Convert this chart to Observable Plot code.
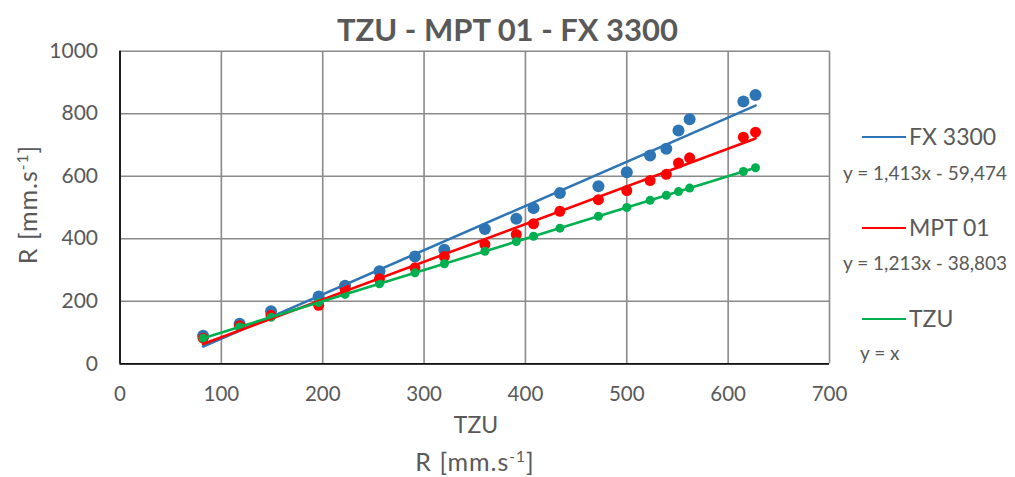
<!DOCTYPE html>
<html><head><meta charset="utf-8">
<script src="https://cdn.jsdelivr.net/npm/d3@7"></script>
<script src="https://cdn.jsdelivr.net/npm/@observablehq/plot@0.6"></script>
<style>
body{margin:0;background:#fff;font-family:Lato,"Open Sans",sans-serif;color:#595959}
#wrap{position:relative;width:1015px;height:477px;overflow:hidden;background:#fff}
.abs{position:absolute;white-space:nowrap;line-height:1}
sup{font-size:62%;vertical-align:0;position:relative;top:-0.6em}
</style></head><body><div id="wrap"></div>
<script>
// ---- data ----
const seriesNames = ["FX 3300", "MPT 01", "TZU"];
const seriesColors = ["#2E75B6", "#FF0000", "#00B050"];
const equations = ["y = 1,413x - 59,474", "y = 1,213x - 38,803", "y = x"];
const tzuX = [82, 118, 149, 196, 222, 256, 291, 320, 360, 391, 408, 434, 472, 500, 523, 539, 551, 562, 615, 627];
const fxValues = [90, 128, 168, 215, 250, 296, 343, 365, 431, 464, 498, 546, 568, 613, 666, 688, 746, 782, 839, 860];
const mptValues = [82, 122, 155, 187, 240, 272, 307, 343, 382, 414, 448, 488, 525, 554, 586, 606, 642, 659, 725, 741];
const tzuValues = [82, 118, 149, 196, 222, 256, 291, 320, 360, 391, 408, 434, 472, 500, 523, 539, 551, 562, 615, 627];
const xTicks = [0, 100, 200, 300, 400, 500, 600, 700];
const yTicks = [0, 200, 400, 600, 800, 1000];
const chartTitle = "TZU - MPT 01 - FX 3300";

const seriesValues = [fxValues, mptValues, tzuValues];
const dotRadius = [6, 5.5, 4.5];
const rows = [];
seriesNames.forEach((s, i) => seriesValues[i].forEach((v, j) => rows.push({series: s, x: tzuX[j], y: v})));

const marks = [
  Plot.gridX(xTicks, {stroke: "#8a8a8a", strokeOpacity: 1, strokeWidth: 1.6}),
  Plot.gridY(yTicks, {stroke: "#8a8a8a", strokeOpacity: 1, strokeWidth: 1.6}),
  Plot.ruleX([0], {stroke: "#111", strokeWidth: 1.8}),
  Plot.ruleY([0], {stroke: "#111", strokeWidth: 1.8}),
  Plot.axisX(xTicks, {tickSize: 0, tickPadding: 23, label: null, tickFormat: d => String(d), fontSize: 20.5, fill: "#595959"}),
  Plot.axisY(yTicks, {tickSize: 0, tickPadding: 22, label: null, tickFormat: d => String(d), fontSize: 21, fill: "#595959"})
];
seriesNames.forEach((s, i) => {
  marks.push(Plot.dot(rows.filter(d => d.series === s), {x: "x", y: "y", r: dotRadius[i], fill: seriesColors[i], stroke: "none"}));
});
seriesNames.forEach((s, i) => {
  marks.push(Plot.linearRegressionY(rows.filter(d => d.series === s), {x: "x", y: "y", stroke: seriesColors[i], strokeWidth: 2.6, ci: 0}));
});

const chart = Plot.plot({
  width: 850, height: 477,
  marginLeft: 119.5, marginRight: 21, marginTop: 50.7, marginBottom: 113.7,
  x: {domain: [0, 700]},
  y: {domain: [0, 1000]},
  style: {fontFamily: "Lato, sans-serif", color: "#595959", background: "transparent", overflow: "visible"},
  marks
});

const wrap = document.getElementById("wrap");
chart.style.position = "absolute"; chart.style.left = "0px"; chart.style.top = "0px";
wrap.appendChild(chart);

function addDiv(html, css) {
  const d = document.createElement("div");
  d.className = "abs";
  d.innerHTML = html;
  Object.assign(d.style, css);
  wrap.appendChild(d);
  return d;
}
// title
addDiv(chartTitle, {left: "0px", width: "1015px", textAlign: "center", top: "14px", fontSize: "31px", fontWeight: "700", color: "#595959"});
// axis titles
addDiv("TZU", {left: "376px", width: "200px", textAlign: "center", top: "413px", fontSize: "23px"});
addDiv("R [mm.s<sup>-1</sup>]", {left: "375px", width: "200px", textAlign: "center", top: "449px", fontSize: "25px", letterSpacing: "1px"});
addDiv("R [mm.s<sup>-1</sup>]", {left: "-73px", width: "200px", textAlign: "center", top: "192px", fontSize: "25px", letterSpacing: "1px", transform: "rotate(-90deg)", transformOrigin: "50% 50%"});
// legend
const legendY = [137, 228, 319];
const eqY = [172, 262, 352];
const eqX = [843, 843, 860];
seriesNames.forEach((s, i) => {
  addDiv("", {left: "862px", top: (legendY[i] - 1.3) + "px", width: "44px", height: "2.6px", background: seriesColors[i]});
  addDiv(s, {left: "909px", top: (legendY[i] - 12) + "px", fontSize: "23px"});
  addDiv(equations[i], {left: eqX[i] + "px", top: (eqY[i] - 9.5) + "px", fontSize: "19px"});
});
</script></body></html>
